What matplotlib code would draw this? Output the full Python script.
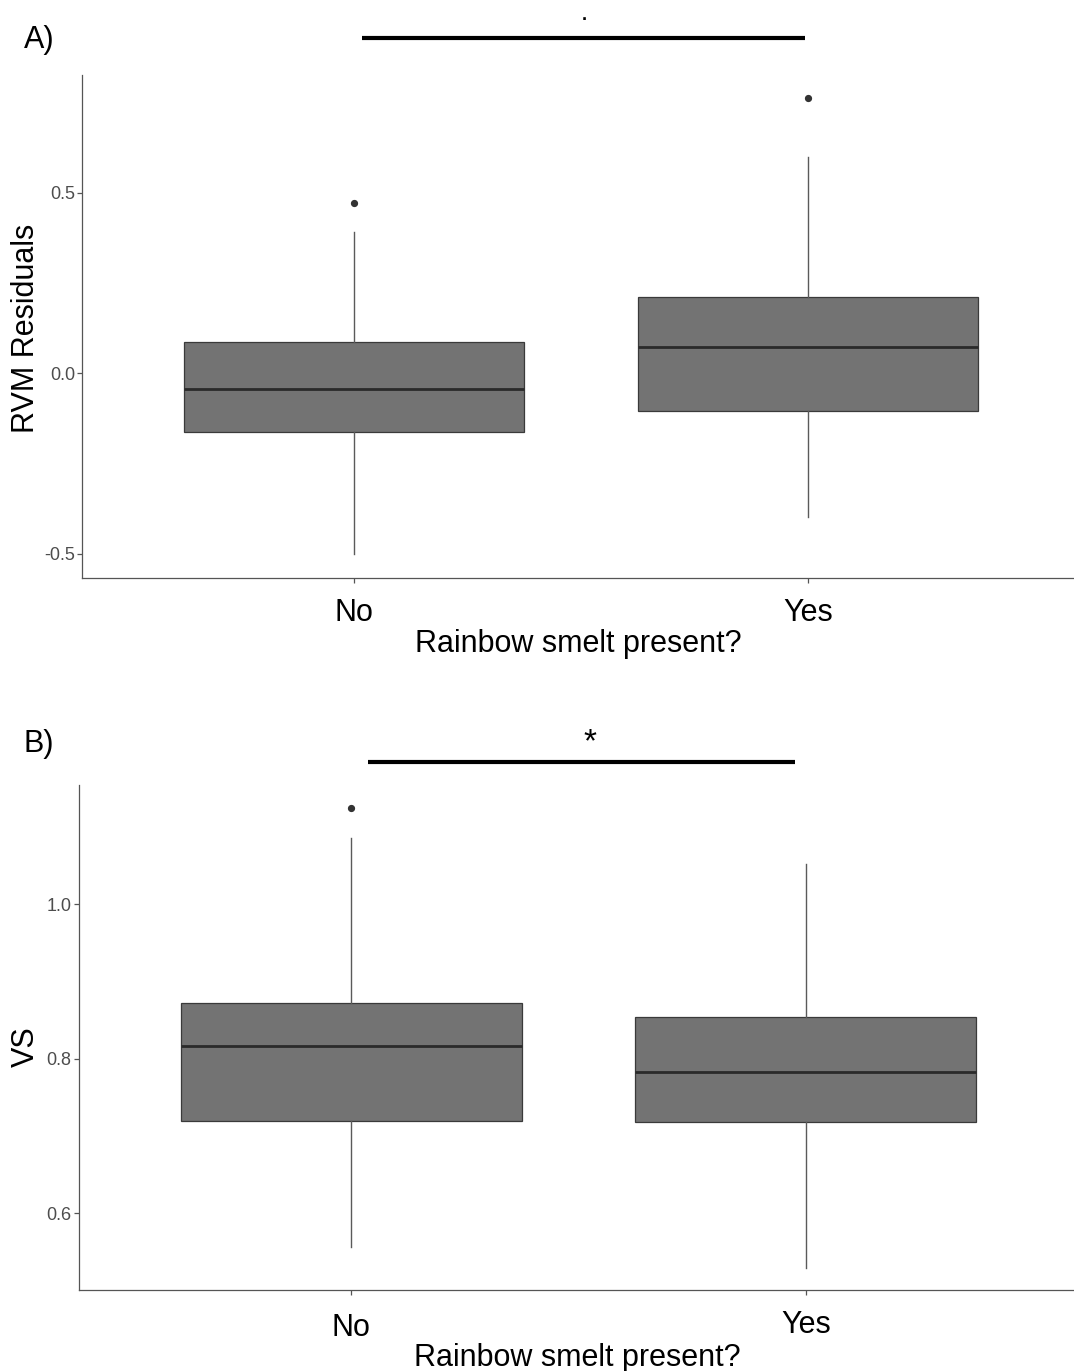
import matplotlib
matplotlib.use("Agg")
import matplotlib.pyplot as plt
import matplotlib.transforms as mtransforms

plt.rcParams["font.family"] = ["Liberation Sans", "DejaVu Sans"]

# ---- data -------------------------------------------------------------
categories = ["No", "Yes"]

# Panel A: RVM residuals by rainbow smelt presence
rvm_q1 = [-0.162, -0.104]
rvm_median = [-0.0435, 0.0735]
rvm_q3 = [0.087, 0.210]
rvm_whisker_low = [-0.500, -0.398]
rvm_whisker_high = [0.390, 0.600]
rvm_outliers = [[0.4715], [0.763]]

# Panel B: VS by rainbow smelt presence
vs_q1 = [0.7197, 0.7184]
vs_median = [0.8159, 0.7828]
vs_q3 = [0.8725, 0.8535]
vs_whisker_low = [0.5564, 0.5292]
vs_whisker_high = [1.0862, 1.0516]
vs_outliers = [[1.125], []]

x_title = "Rainbow smelt present?"
sig_a = "."
sig_b = "*"

# ---- figure -------------------------------------------------------------
W, H = 1074, 1371
fig = plt.figure(figsize=(W / 100, H / 100), dpi=100)


def axes_px(left, top, right, bottom):
    return fig.add_axes([left / W, 1 - bottom / H, (right - left) / W, (bottom - top) / H])


def fig_xy(x, y):
    return x / W, 1 - y / H


axA = axes_px(82, 75, 1080, 577.7)
axB = axes_px(78.7, 785, 1078.6, 1290.3)

SPINE = "#555555"


def boxplot(ax, q1, med, q3, lo, hi, fliers):
    stats = []
    for i, c in enumerate(categories):
        stats.append(dict(label=c, q1=q1[i], med=med[i], q3=q3[i],
                          whislo=lo[i], whishi=hi[i], fliers=fliers[i]))
    ax.bxp(stats, positions=[1, 2], widths=0.75, patch_artist=True,
           showcaps=False,
           boxprops=dict(facecolor="#737373", edgecolor="#3a3a3a", linewidth=0.9),
           medianprops=dict(color="#2a2a2a", linewidth=2.0),
           whiskerprops=dict(color="#5a5a5a", linewidth=1.0),
           flierprops=dict(marker="o", markersize=4.2, markerfacecolor="#333333",
                           markeredgecolor="#333333"))
    ax.set_xlim(0.4, 2.6)
    for s in ("top", "right"):
        ax.spines[s].set_visible(False)
    for s in ("left", "bottom"):
        ax.spines[s].set_color(SPINE)
        ax.spines[s].set_linewidth(0.9)
    ax.tick_params(axis="y", labelsize=13, labelcolor="#4d4d4d", color=SPINE,
                   length=3.6, width=0.9, pad=1.5)
    ax.tick_params(axis="x", labelsize=22, labelcolor="black", color=SPINE,
                   length=3.6, width=0.9)


# Panel A
boxplot(axA, rvm_q1, rvm_median, rvm_q3, rvm_whisker_low, rvm_whisker_high, rvm_outliers)
axA.set_ylim(-0.566, 0.826)
axA.set_yticks([-0.5, 0.0, 0.5])
axA.set_yticklabels(["-0.5", "0.0", "0.5"])
axA.tick_params(axis="x", pad=11)
axA.set_xlabel(x_title, fontsize=22, va="baseline")
axA.xaxis.set_label_coords(*fig_xy(578, 652), transform=fig.transFigure)
axA.set_ylabel("RVM Residuals", fontsize=22, va="baseline")
axA.yaxis.set_label_coords(*fig_xy(34, 328), transform=fig.transFigure)

axA.plot([1.018, 1.993], [0.928, 0.928], color="black", lw=3, clip_on=False,
         solid_capstyle="butt")
axA.text(1.508, 0.979, sig_a, fontsize=13, fontweight="bold",
         ha="center", va="baseline")

# Panel B
boxplot(axB, vs_q1, vs_median, vs_q3, vs_whisker_low, vs_whisker_high, vs_outliers)
axB.set_ylim(0.5003, 1.1544)
axB.set_yticks([0.6, 0.8, 1.0])
axB.set_yticklabels(["0.6", "0.8", "1.0"])
axB.tick_params(axis="x", pad=12.5)
# the "Yes" label in panel B sits a few pixels higher than "No"
yes_lbl = axB.get_xticklabels()[1]
yes_lbl.set_transform(yes_lbl.get_transform() +
                      mtransforms.ScaledTranslation(0, 3 / 100, fig.dpi_scale_trans))
axB.set_xlabel(x_title, fontsize=22, va="baseline")
axB.xaxis.set_label_coords(*fig_xy(577, 1366), transform=fig.transFigure)
axB.set_ylabel("VS", fontsize=22, va="baseline")
axB.yaxis.set_label_coords(*fig_xy(34, 1047), transform=fig.transFigure)

axB.plot([1.0365, 1.976], [1.1846, 1.1846], color="black", lw=3, clip_on=False,
         solid_capstyle="butt")
axB.text(1.5245, 1.198, sig_b, fontsize=24, ha="center", va="baseline")

# Panel letters
fig.text(*fig_xy(24, 48), "A)", fontsize=22, ha="left", va="baseline")
fig.text(*fig_xy(24, 752), "B)", fontsize=22, ha="left", va="baseline")

fig.savefig("out.png", dpi=100, facecolor="white")
